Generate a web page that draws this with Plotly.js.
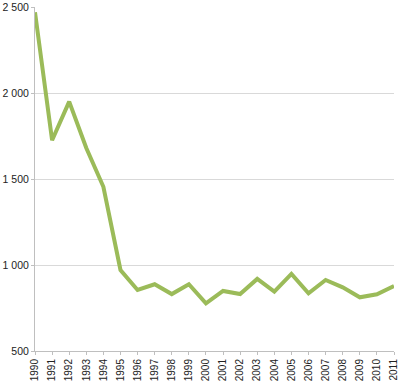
<!DOCTYPE html>
<html>
<head>
<meta charset="utf-8">
<script src="https://cdn.plot.ly/plotly-3.0.1.min.js"></script>
<style>html,body{margin:0;padding:0;background:#fff;}#chart{width:400px;height:382px;}</style>
</head>
<body>
<div id="chart"></div>
<script>
const years = [1990,1991,1992,1993,1994,1995,1996,1997,1998,1999,2000,2001,2002,2003,2004,2005,2006,2007,2008,2009,2010,2011];
const values = [2470,1725,1950,1680,1455,971,855,888,831,888,777,849,831,919,845,948,836,913,870,812,830,878];
const yTicks = [500,1000,1500,2000,2500];

const trace = {
  x: years, y: values, type: 'scatter', mode: 'lines',
  line: {color: '#9bbb59', width: 4},
  hoverinfo: 'skip'
};
const layout = {
  width: 400, height: 382,
  margin: {l: 35, r: 6, t: 7, b: 31},
  paper_bgcolor: '#fff', plot_bgcolor: '#fff',
  separators: ', ',
  font: {family: '"Liberation Sans", Arial, sans-serif', size: 11, color: '#222'},
  showlegend: false,
  xaxis: {
    range: [1990, 2011], tickvals: years, ticktext: years.map(String),
    tickangle: -90, showgrid: false, zeroline: false,
    showline: true, linecolor: '#bfbfbf', linewidth: 1,
    ticks: 'outside', ticklen: 3, tickcolor: '#bfbfbf',
    tickfont: {size: 10}
  },
  yaxis: {
    range: [500, 2500], tickvals: yTicks, tickformat: ',d',
    showgrid: true, gridcolor: '#d9d9d9', gridwidth: 1, zeroline: false,
    showline: true, linecolor: '#bfbfbf', linewidth: 1,
    ticks: 'outside', ticklen: 3, tickcolor: '#bfbfbf',
    tickfont: {size: 10.5}
  }
};
Plotly.newPlot('chart', [trace], layout, {displayModeBar: false, staticPlot: true});
</script>
</body>
</html>
